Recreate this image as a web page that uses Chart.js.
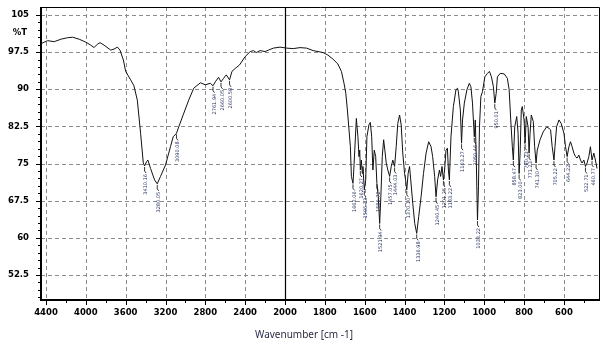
<!DOCTYPE html>
<html lang="en">
<head>
<meta charset="UTF-8">
<title>IR spectrum</title>
<style>
  html, body { margin: 0; padding: 0; background: #fff; }
  .chartBox { width: 609px; height: 350px; }
</style>
</head>
<body>
<div class="chartBox"><canvas id="myChart" width="609" height="350"></canvas></div>
<script src="https://cdn.jsdelivr.net/npm/chart.js"></script>
<script>
// spectrum, high to low wavenumber
const waveNumbers = [4440,4383,4317,4250,4183,4133,4067,4000,3950,3917,
  3883,3857,3817,3750,3717,3683,3657,3623,3600,3550,
  3517,3483,3450,3423,3410,3390,3377,3350,3310,3283,
  3250,3200,3150,3123,3090,3067,3023,2967,2917,2850,
  2800,2750,2723,2700,2667,2643,2617,2590,2557,2533,
  2500,2457,2400,2350,2317,2290,2250,2200,2167,2117,
  2050,1992,1959,1925,1892,1859,1809,1785,1760,1735,
  1717,1704,1695,1687,1672,1667,1659,1655,1650,1642,
  1634,1629,1625,1622,1617,1612,1609,1602,1595,1589,
  1579,1572,1565,1559,1552,1545,1539,1532,1525,1519,
  1512,1505,1499,1492,1484,1475,1467,1459,1450,1442,
  1434,1425,1417,1409,1400,1395,1389,1382,1375,1369,
  1359,1349,1339,1329,1317,1305,1292,1279,1267,1259,
  1249,1242,1234,1225,1219,1212,1205,1199,1192,1185,
  1180,1175,1167,1155,1142,1134,1130,1120,1114,1109,
  1100,1087,1075,1067,1059,1050,1045,1040,1034,1029,
  1024,1017,1009,997,984,974,964,954,947,940,
  934,920,900,884,875,867,859,854,847,837,
  830,825,820,814,809,800,795,789,780,775,
  770,764,754,747,740,734,720,704,687,675,
  667,659,650,645,637,625,614,600,592,584,
  575,567,559,550,542,534,525,517,509,500,
  492,484,475,467,459,450,442,434];
const transmittance = [99.3,99.8,99.6,100.1,100.4,100.5,100.1,99.5,98.9,98.4,
  99.1,99.4,98.9,97.9,98.1,98.5,97.9,95.9,93.6,91.9,
  90.7,87.8,81.1,75.1,74.5,75.4,75.7,74.0,71.7,70.9,
  72.4,74.7,78.4,80.4,81.1,82.4,84.8,87.8,90.2,91.3,
  90.9,91.2,90.7,91.5,92.4,91.5,92.2,92.9,91.9,93.6,
  94.2,94.9,96.6,97.6,97.8,97.4,97.8,97.6,97.9,98.3,
  98.5,98.3,98.2,98.4,98.3,97.8,97.4,96.9,96.1,95.1,
  93.6,91.2,89.2,85.8,78.4,72.4,71.0,73.7,77.7,84.1,
  80.4,76.4,77.7,73.7,75.7,73.0,74.4,69.7,71.7,80.4,
  82.8,83.3,80.4,73.7,77.7,76.4,71.0,68.3,62.9,68.3,
  76.4,79.8,77.7,75.1,73.7,72.4,74.4,75.7,74.4,78.4,
  83.1,84.8,82.8,77.1,73.0,71.7,69.7,73.0,74.4,71.7,
  67.0,62.9,60.9,64.3,68.3,73.0,77.1,79.4,78.4,76.4,
  72.4,68.3,71.7,73.7,72.4,74.4,71.7,73.7,77.7,78.1,
  73.7,71.7,80.4,86.5,89.9,90.2,89.5,85.8,79.1,83.8,
  87.2,89.9,91.2,90.5,87.2,80.4,83.8,75.7,63.6,70.3,
  82.4,88.5,89.5,92.5,93.2,93.6,92.5,90.5,87.2,89.2,
  92.5,93.2,93.1,92.2,89.9,83.8,78.4,75.7,82.4,84.5,
  81.1,73.0,77.1,85.8,86.5,83.8,79.1,84.5,82.4,77.1,
  81.1,84.8,83.5,78.4,75.1,77.7,79.8,81.4,82.4,82.1,
  81.8,78.4,75.7,78.4,82.4,83.8,83.1,81.1,78.4,76.4,
  78.4,79.4,78.4,77.1,76.4,76.1,76.7,75.7,75.1,75.7,
  74.4,75.1,76.4,78.4,75.7,77.1,75.7,74.0];

const xTickWaves = [4400,4000,3600,3200,2800,2400,2000,1800,1600,1400,1200,1000,800,600];
const yTickValues = [52.5,60,67.5,75,82.5,90,97.5,105];

// peak picks
const peakWaves  = [3410,3283,3090,2723,2643,2557,
  1659,1622,1602,1539,1525,1475,1450,1389,1339,1242,1205,1175,1114,1050,1034,947,854,825,795,775,740,650,584,492,459];
const peakValues = [74.5,70.9,81.1,90.7,91.5,91.9,
  71.0,73.7,69.7,71.0,62.9,72.4,74.4,69.7,60.9,68.3,71.7,71.7,79.1,80.4,63.6,87.2,75.7,73.0,79.1,77.1,75.1,75.7,76.4,74.4,75.7];
const peakTexts  = ['3410.16','3280.05','3090.08','2761.94','2660.05','2600.58',
  '1662.06','1620.27','1596.13','1580.72','1521.94','1457.05','1444.03','1370.10','1336.98','1240.45','1201.25','1183.22','1103.27','1050.46','1033.22','950.01','858.47','823.00','790.23','771.23','741.30','705.22','644.22','522.71','460.77'];

// above 2000 cm-1 the axis runs at half scale
const toAxis = w => w > 2000 ? 2000 + (w - 2000) / 2 : w;

const points = waveNumbers.map((w, i) => ({ x: toAxis(w), y: transmittance[i] }));

const X_MIN = 424, X_MAX = 3225, Y_MIN = 47.45, Y_MAX = 106.6;
const tickFont = { family: 'DejaVu Sans', size: 8.5, weight: 'bold' };

const noPad = s => { s.paddingTop = 0; s.paddingBottom = 0; s.paddingLeft = 0; s.paddingRight = 0; };

const spectrumFrame = {
  id: 'spectrumFrame',
  beforeDatasetsDraw(chart) {
    const { ctx, chartArea: a, scales: { x, y } } = chart;
    ctx.save();
    ctx.strokeStyle = '#8c8c8c';
    ctx.lineWidth = 1;
    ctx.setLineDash([4, 3]);
    ctx.beginPath();
    xTickWaves.forEach(w => {
      if (w === 2000) return;
      const px = Math.round(x.getPixelForValue(toAxis(w))) + 0.5;
      ctx.moveTo(px, a.top); ctx.lineTo(px, a.bottom);
    });
    yTickValues.forEach(v => {
      const py = Math.round(y.getPixelForValue(v)) + 0.5;
      ctx.moveTo(a.left, py); ctx.lineTo(a.right, py);
    });
    ctx.stroke();
    ctx.setLineDash([]);
    // scale break at 2000
    const p2k = Math.round(x.getPixelForValue(2000)) + 0.5;
    ctx.strokeStyle = '#000';
    ctx.lineWidth = 1.2;
    ctx.beginPath(); ctx.moveTo(p2k, a.top); ctx.lineTo(p2k, a.bottom); ctx.stroke();
    ctx.restore();
  },
  afterDatasetsDraw(chart) {
    const { ctx, chartArea: a, scales: { x, y } } = chart;
    ctx.save();
    // thin frame top/right
    ctx.strokeStyle = '#000';
    ctx.lineWidth = 1;
    ctx.beginPath();
    ctx.moveTo(a.left, a.top + 0.5); ctx.lineTo(a.right + 0.5, a.top + 0.5); ctx.lineTo(a.right + 0.5, a.bottom);
    ctx.stroke();
    // axes
    ctx.lineWidth = 2;
    ctx.beginPath();
    ctx.moveTo(a.left, a.top); ctx.lineTo(a.left, a.bottom); ctx.lineTo(a.right + 1, a.bottom);
    ctx.stroke();
    // tick marks
    ctx.lineWidth = 1;
    ctx.beginPath();
    for (let t = 500; t <= 3200; t += 100) {
      const px = Math.round(x.getPixelForValue(t)) + 0.5;
      const len = t % 200 === 0 ? 5 : 3;
      ctx.moveTo(px, a.bottom); ctx.lineTo(px, a.bottom + len);
    }
    for (let v = 48; v <= 106; v += 1.5) {
      const py = Math.round(y.getPixelForValue(v)) + 0.5;
      const len = Math.abs(((v - 52.5) / 7.5) - Math.round((v - 52.5) / 7.5)) < 0.01 ? 5 : 3;
      ctx.moveTo(a.left - len, py); ctx.lineTo(a.left, py);
    }
    ctx.stroke();

    // axis captions
    ctx.fillStyle = '#000';
    ctx.font = 'bold 8.5px "DejaVu Sans"';
    ctx.textAlign = 'center';
    ctx.textBaseline = 'middle';
    ctx.fillText('%T', 20, 33);
    ctx.fillStyle = '#2b2b45';
    ctx.font = '10px "Noto Sans"';
    ctx.fillText('Wavenumber [cm -1]', 304, 335);

    // peak labels
    ctx.font = '5px "DejaVu Sans"';
    ctx.fillStyle = '#1e2a5a';
    ctx.strokeStyle = '#000';
    ctx.lineWidth = 0.8;
    ctx.textAlign = 'right';
    peakWaves.forEach((w, i) => {
      const px = x.getPixelForValue(toAxis(w));
      const py = y.getPixelForValue(peakValues[i]);
      ctx.beginPath();
      ctx.moveTo(px, py + 1); ctx.lineTo(px, py + 5); ctx.lineTo(px + 1.5, py + 7);
      ctx.stroke();
      ctx.save();
      ctx.translate(px + 1.5, py + 8);
      ctx.rotate(-Math.PI / 2);
      ctx.fillText(peakTexts[i], 0, 0);
      ctx.restore();
    });
    ctx.restore();
  }
};

const ctx = document.getElementById('myChart').getContext('2d');
const myChart = new Chart(ctx, {
  type: 'line',
  data: {
    datasets: [{
      label: '%T',
      data: points,
      borderColor: '#111',
      borderWidth: 1,
      pointRadius: 0,
      tension: 0,
      fill: false
    }]
  },
  options: {
    responsive: false,
    animation: false,
    devicePixelRatio: 1,
    layout: { padding: { top: 7, right: 10, left: 0, bottom: 0 } },
    plugins: { legend: { display: false }, tooltip: { enabled: false } },
    scales: {
      x: {
        type: 'linear',
        reverse: true,
        min: X_MIN,
        max: X_MAX,
        afterBuildTicks: s => { s.ticks = xTickWaves.map(w => ({ value: toAxis(w) })); },
        afterFit: s => { s.height = 50; noPad(s); },
        grid: { display: false, drawTicks: false },
        border: { display: false },
        ticks: {
          autoSkip: false,
          maxRotation: 0,
          padding: 8,
          color: '#000',
          font: tickFont,
          callback: v => String(v > 2000 ? 2000 + (v - 2000) * 2 : v)
        }
      },
      y: {
        type: 'linear',
        min: Y_MIN,
        max: Y_MAX,
        afterBuildTicks: s => { s.ticks = yTickValues.map(v => ({ value: v })); },
        afterFit: s => { s.width = 41; noPad(s); },
        grid: { display: false, drawTicks: false },
        border: { display: false },
        ticks: {
          autoSkip: false,
          padding: 12,
          color: '#000',
          font: tickFont,
          callback: v => (v % 1 ? v.toFixed(1) : String(v))
        }
      }
    }
  },
  plugins: [spectrumFrame]
});
</script>
</body>
</html>
